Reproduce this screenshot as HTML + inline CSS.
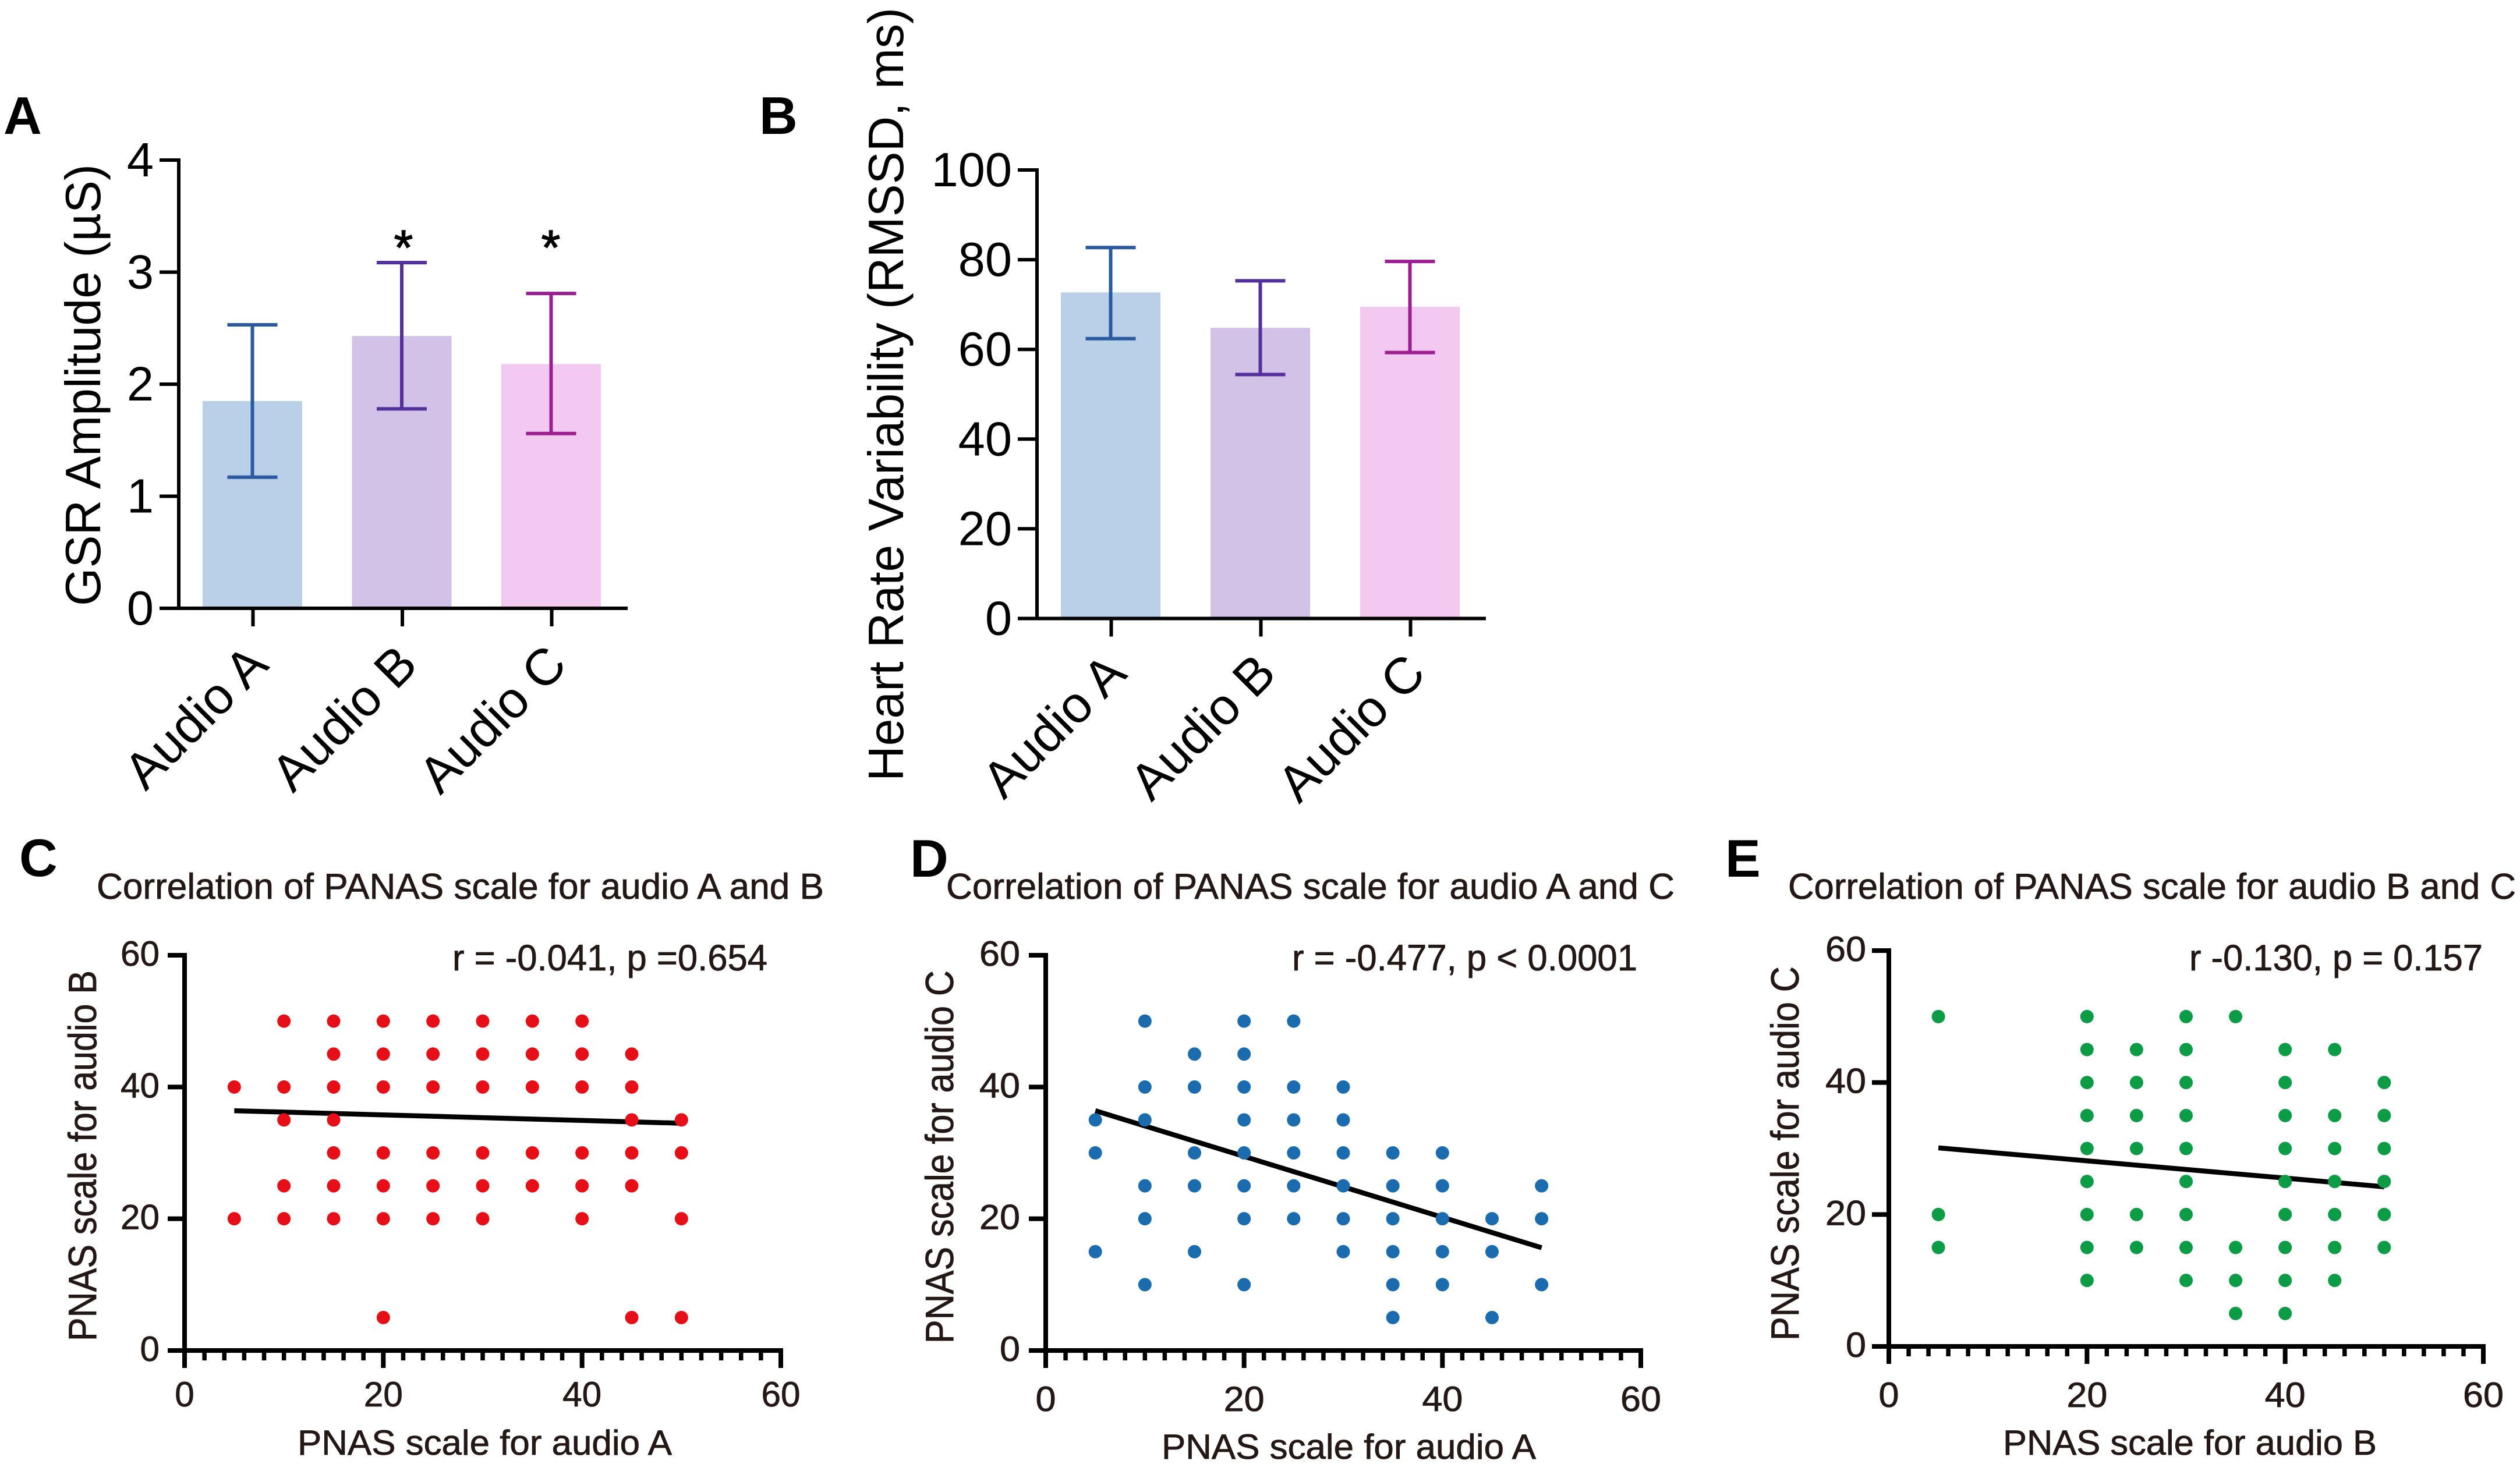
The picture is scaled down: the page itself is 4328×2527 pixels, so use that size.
<!DOCTYPE html>
<html lang="en">
<head>
<meta charset="utf-8">
<title>GSR, HRV and PANAS correlation figure</title>
<style>
html,body{margin:0;padding:0;background:#fff;}
svg{display:block;font-family:"Liberation Sans",Arial,sans-serif;}
.letter{font-weight:bold;font-size:91px;fill:#000;}
.bar-label{font-size:88px;fill:#000;}
.scatter-text{fill:#231815;stroke:#231815;stroke-width:0.8px;}
</style>
</head>
<body>
<svg id="figure" xmlns="http://www.w3.org/2000/svg" width="4328" height="2527" viewBox="0 0 4328 2527">
  <rect x="0" y="0" width="4328" height="2527" fill="#ffffff"/>

  <g id="panel-a"></g>
  <g id="panel-b"></g>
  <g id="panel-c"></g>
  <g id="panel-d"></g>
  <g id="panel-e"></g>

  <text class="letter" x="6" y="230">A</text>
  <text class="letter" x="1304" y="230">B</text>
  <text class="letter" x="33" y="1505">C</text>
  <text class="letter" x="1563" y="1506">D</text>
  <text class="letter" x="2963" y="1506">E</text>

  <text x="172" y="1041" transform="rotate(-90 172 1041)" font-size="85" fill="#000" textLength="759" lengthAdjust="spacingAndGlyphs">GSR Amplitude (µS)</text>
  <text x="1551" y="1342" transform="rotate(-90 1551 1342)" font-size="85" fill="#000" textLength="1329" lengthAdjust="spacingAndGlyphs">Heart Rate Variability (RMSSD, ms)</text>
  <text x="693" y="454" font-size="84" fill="#000" stroke="#000" stroke-width="1.5" text-anchor="middle">*</text>
  <text x="946" y="454" font-size="84" fill="#000" stroke="#000" stroke-width="1.5" text-anchor="middle">*</text>

  <text class="scatter-text" x="166" y="1544" font-size="62" textLength="1249" lengthAdjust="spacingAndGlyphs">Correlation of PANAS scale for audio A and B</text>
  <text class="scatter-text" x="1625" y="1544" font-size="62" textLength="1251" lengthAdjust="spacingAndGlyphs">Correlation of PANAS scale for audio A and C</text>
  <text class="scatter-text" x="3071" y="1544" font-size="62" textLength="1250" lengthAdjust="spacingAndGlyphs">Correlation of PANAS scale for audio B and C</text>

  <text class="scatter-text" x="777" y="1667" font-size="63" textLength="541" lengthAdjust="spacingAndGlyphs">r = -0.041, p =0.654</text>
  <text class="scatter-text" x="2219" y="1667" font-size="63" textLength="593" lengthAdjust="spacingAndGlyphs">r = -0.477, p &lt; 0.0001</text>
  <text class="scatter-text" x="3760" y="1667" font-size="63" textLength="504" lengthAdjust="spacingAndGlyphs">r -0.130, p = 0.157</text>

  <text class="scatter-text" x="511" y="2499" font-size="60" textLength="643" lengthAdjust="spacingAndGlyphs">PNAS scale for audio A</text>
  <text class="scatter-text" x="1995" y="2506" font-size="60" textLength="643" lengthAdjust="spacingAndGlyphs">PNAS scale for audio A</text>
  <text class="scatter-text" x="3440" y="2499" font-size="60" textLength="642" lengthAdjust="spacingAndGlyphs">PNAS scale for audio B</text>

  <text class="scatter-text" x="165" y="2304" transform="rotate(-90 165 2304)" font-size="68" textLength="637" lengthAdjust="spacingAndGlyphs">PNAS scale for audio B</text>
  <text class="scatter-text" x="1637" y="2308" transform="rotate(-90 1637 2308)" font-size="68" textLength="641" lengthAdjust="spacingAndGlyphs">PNAS scale for audio C</text>
  <text class="scatter-text" x="3089" y="2303" transform="rotate(-90 3089 2303)" font-size="68" textLength="643" lengthAdjust="spacingAndGlyphs">PNAS scale for audio C</text>
</svg>

<script>
// ---------- bar chart data ----------
var barCategories = ['Audio A', 'Audio B', 'Audio C'];
var gsrMeans = [1.85, 2.43, 2.18];
var gsrUpper = [2.53, 3.085, 2.81];
var gsrLower = [1.17, 1.78, 1.56];
var gsrTicks = [0, 1, 2, 3, 4];
var hrvMeans = [72.7, 64.8, 69.5];
var hrvUpper = [82.7, 75.3, 79.6];
var hrvLower = [62.4, 54.4, 59.3];
var hrvTicks = [0, 20, 40, 60, 80, 100];

// ---------- scatter chart data ----------
var scatterTicks = [0, 20, 40, 60];
var minorTicks = [2,4,6,8,10,12,14,16,18,22,24,26,28,30,32,34,36,38,42,44,46,48,50,52,54,56,58];

var cPointsX = [10,15,20,25,30,35,40, 15,20,25,30,35,40,45, 5,10,15,20,25,30,35,40,45, 10,15,45,50, 15,20,25,30,35,40,45,50, 10,15,20,25,30,35,40,45, 5,10,15,20,25,30,40,50, 20,45,50];
var cPointsY = [50,50,50,50,50,50,50, 45,45,45,45,45,45,45, 40,40,40,40,40,40,40,40,40, 35,35,35,35, 30,30,30,30,30,30,30,30, 25,25,25,25,25,25,25,25, 20,20,20,20,20,20,20,20, 5,5,5];
var cLineX = [5, 50];
var cLineY = [36.4, 34.5];

var dPointsX = [10,20,25, 15,20, 10,15,20,25,30, 5,10,20,25,30, 5,15,20,25,30,35,40, 10,15,20,25,30,35,40,50, 10,20,25,30,35,40,45,50, 5,15,30,35,40,45, 10,20,35,40,50, 35,45];
var dPointsY = [50,50,50, 45,45, 40,40,40,40,40, 35,35,35,35,35, 30,30,30,30,30,30,30, 25,25,25,25,25,25,25,25, 20,20,20,20,20,20,20,20, 15,15,15,15,15,15, 10,10,10,10,10, 5,5];
var dLineX = [5, 50];
var dLineY = [36.4, 15.6];

var ePointsX = [5,20,30,35, 20,25,30,40,45, 20,25,30,40,50, 20,25,30,40,45,50, 20,25,30,40,45,50, 20,30,40,45,50, 5,20,25,30,40,45,50, 5,20,25,30,35,40,45,50, 20,30,35,40,45, 35,40];
var ePointsY = [50,50,50,50, 45,45,45,45,45, 40,40,40,40,40, 35,35,35,35,35,35, 30,30,30,30,30,30, 25,25,25,25,25, 20,20,20,20,20,20,20, 15,15,15,15,15,15,15,15, 10,10,10,10,10, 5,5];
var eLineX = [5, 50];
var eLineY = [30.1, 24.2];

// ---------- helpers ----------
var SVG_NS = 'http://www.w3.org/2000/svg';

function shape(parent, tag, attrs) {
  var el = document.createElementNS(SVG_NS, tag);
  for (var k in attrs) { el.setAttribute(k, attrs[k]); }
  parent.appendChild(el);
  return el;
}

function linearScale(d0, d1, r0, r1) {
  return function (v) { return r0 + (v - d0) * (r1 - r0) / (d1 - d0); };
}

var barFills = ['#bad0e9', '#d2c2e7', '#f3c8f1'];
var errorColors = ['#2b5a9e', '#53309b', '#9c1f91'];

function drawBarPanel(o) {
  var g = document.getElementById(o.id);
  var y = linearScale(0, o.yMax, o.y0, o.yTop);
  var i, el, cx;

  for (i = 0; i < o.means.length; i++) {
    cx = o.firstCenter + i * o.step;
    el = shape(g, 'rect', {x: cx - o.barHalf, y: y(o.means[i]), width: o.barHalf * 2, height: o.y0 - y(o.means[i]), fill: barFills[i]});
    
    

    el = shape(g, 'line', {x1: cx, x2: cx, y1: y(o.upper[i]), y2: y(o.lower[i]), stroke: errorColors[i], 'stroke-width': 6});
    
    

    el = shape(g, 'line', {x1: cx - 43, x2: cx + 43, y1: y(o.upper[i]), y2: y(o.upper[i]), stroke: errorColors[i], 'stroke-width': 6});
    
    

    el = shape(g, 'line', {x1: cx - 43, x2: cx + 43, y1: y(o.lower[i]), y2: y(o.lower[i]), stroke: errorColors[i], 'stroke-width': 6});
    
    

    el = shape(g, 'line', {x1: cx + 1, x2: cx + 1, y1: o.y0, y2: o.y0 + 31, stroke: '#000', 'stroke-width': 6});
    
    

    el = shape(g, 'text', {x: cx + o.labelDx, y: o.labelY, 'class': 'bar-label', 'text-anchor': 'end', transform: 'rotate(-45 ' + (cx + o.labelDx) + ' ' + o.labelY + ')'});
    el.textContent = barCategories[i];
    
    
  }

  el = shape(g, 'line', {x1: o.axisX, x2: o.axisX, y1: o.yTop - 3, y2: o.y0 + 3, stroke: '#000', 'stroke-width': 6});
  
  

  el = shape(g, 'line', {x1: o.axisX - 33, x2: o.axisEnd, y1: o.y0, y2: o.y0, stroke: '#000', 'stroke-width': 6});
  
  

  for (i = 0; i < o.ticks.length; i++) {
    el = shape(g, 'line', {x1: o.axisX - 33, x2: o.axisX, y1: y(o.ticks[i]), y2: y(o.ticks[i]), stroke: '#000', 'stroke-width': 6});
    
    

    el = shape(g, 'text', {x: o.axisX - 43, y: y(o.ticks[i]) + 28, 'font-size': 83, fill: '#000', 'text-anchor': 'end'});
    el.textContent = String(o.ticks[i]);
    
    
  }
}

function drawScatterPanel(o) {
  var g = document.getElementById(o.id);
  var x = linearScale(0, 60, o.x0, o.x60);
  var y = linearScale(0, 60, o.y0, o.y60);
  var i, el, s;

  el = shape(g, 'line', {x1: x(o.lineX[0]), y1: y(o.lineY[0]), x2: x(o.lineX[1]), y2: y(o.lineY[1]), stroke: '#000', 'stroke-width': 8.5});
  
  

  for (i = 0; i < o.px.length; i++) {
    el = shape(g, 'circle', {cx: x(o.px[i]), cy: y(o.py[i]), r: 11.5, fill: o.color});
    
    
  }

  el = shape(g, 'line', {x1: o.x0, x2: o.x0, y1: o.y60 - 4, y2: o.y0 + o.majorLen, stroke: '#000', 'stroke-width': 8});
  
  

  el = shape(g, 'line', {x1: o.x0 - 29, x2: x(60) + 4, y1: o.y0, y2: o.y0, stroke: '#000', 'stroke-width': 8});
  
  

  for (i = 0; i < minorTicks.length; i++) {
    el = shape(g, 'line', {x1: x(minorTicks[i]), x2: x(minorTicks[i]), y1: o.y0, y2: o.y0 + 17, stroke: '#000', 'stroke-width': 7.5});
    
    
  }

  for (i = 0; i < scatterTicks.length; i++) {
    s = String(scatterTicks[i]);

    el = shape(g, 'line', {x1: x(scatterTicks[i]), x2: x(scatterTicks[i]), y1: o.y0, y2: o.y0 + o.majorLen, stroke: '#000', 'stroke-width': 8});
    
    

    el = shape(g, 'text', {x: x(scatterTicks[i]), y: o.xLabelY, 'class': 'scatter-text', 'font-size': 60, 'text-anchor': 'middle', textLength: s.length * o.charW, lengthAdjust: 'spacingAndGlyphs'});
    el.textContent = s;
    
    

    el = shape(g, 'line', {x1: o.x0 - 29, x2: o.x0, y1: y(scatterTicks[i]), y2: y(scatterTicks[i]), stroke: '#000', 'stroke-width': 8});
    
    

    el = shape(g, 'text', {x: o.yLabelX, y: y(scatterTicks[i]) + 18, 'class': 'scatter-text', 'font-size': 60, 'text-anchor': 'end', textLength: s.length * o.charW, lengthAdjust: 'spacingAndGlyphs'});
    el.textContent = s;
    
    
  }
}

drawBarPanel({id: 'panel-a', means: gsrMeans, upper: gsrUpper, lower: gsrLower, ticks: gsrTicks, yMax: 4,
  y0: 1045, yTop: 275, axisX: 307, axisEnd: 1078, firstCenter: 433.5, step: 256.5, barHalf: 85.5, labelDx: 31, labelY: 1146});
drawBarPanel({id: 'panel-b', means: hrvMeans, upper: hrvUpper, lower: hrvLower, ticks: hrvTicks, yMax: 100,
  y0: 1062.5, yTop: 292, axisX: 1781, axisEnd: 2552, firstCenter: 1907.5, step: 257, barHalf: 85.5, labelDx: 31, labelY: 1161});

drawScatterPanel({id: 'panel-c', color: '#e60f17', px: cPointsX, py: cPointsY, lineX: cLineX, lineY: cLineY,
  x0: 317, x60: 1341, y0: 2320, y60: 1641, majorLen: 30, xLabelY: 2416, yLabelX: 274, charW: 33.5});
drawScatterPanel({id: 'panel-d', color: '#1a6cae', px: dPointsX, py: dPointsY, lineX: dLineX, lineY: dLineY,
  x0: 1796, x60: 2818, y0: 2320, y60: 1641, majorLen: 30, xLabelY: 2424, yLabelX: 1752, charW: 35});
drawScatterPanel({id: 'panel-e', color: '#0b9c45', px: ePointsX, py: ePointsY, lineX: eLineX, lineY: eLineY,
  x0: 3244, x60: 4265, y0: 2313, y60: 1633, majorLen: 30, xLabelY: 2417, yLabelX: 3205, charW: 35});
</script>
</body>
</html>
